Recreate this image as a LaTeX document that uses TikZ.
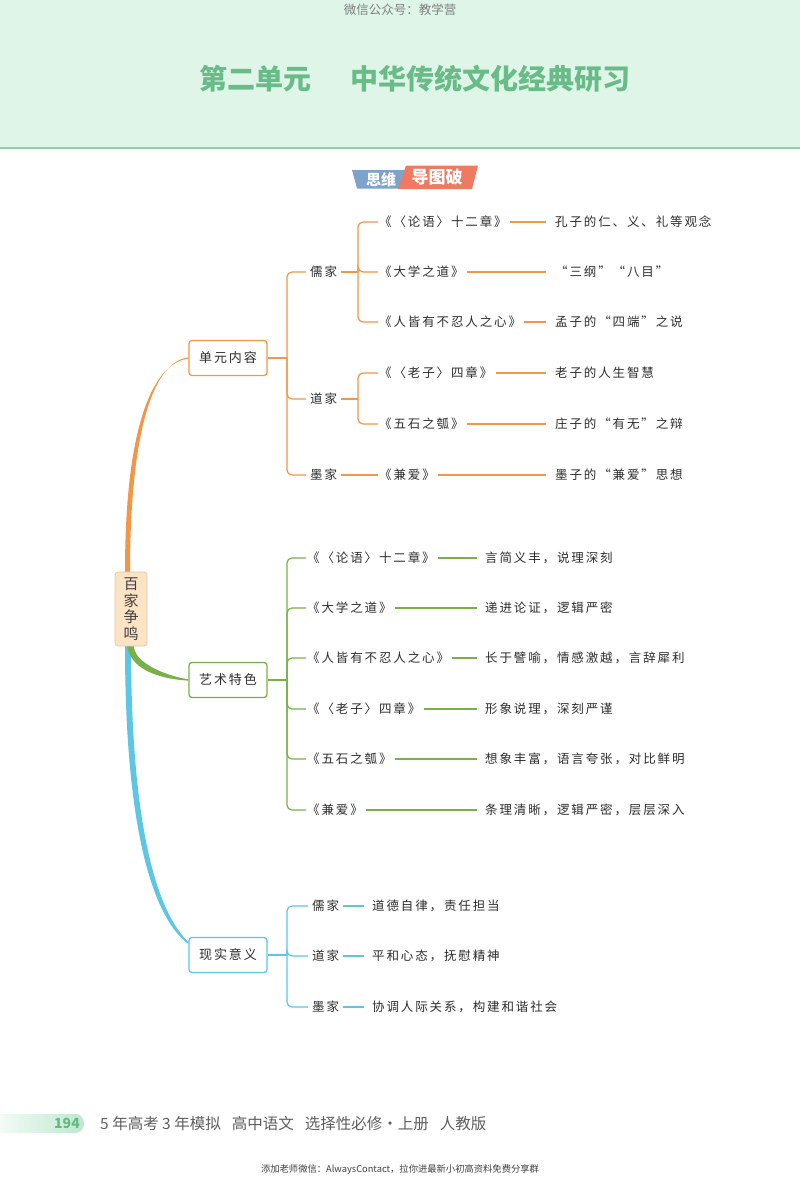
\documentclass[tikz,border=0pt]{standalone}
\usepackage{fontspec}
\setmainfont{Noto Sans CJK SC}
\newfontfamily\cjk{Noto Sans CJK SC}
\newfontfamily\cjksp[LetterSpace=15]{Noto Sans CJK SC}
\usetikzlibrary{calc}
\pgfdeclarelayer{bg}
\pgfsetlayers{bg,main}
\definecolor{org}{RGB}{240,152,72}
\definecolor{grn}{RGB}{122,176,72}
\definecolor{cyn}{RGB}{92,198,228}
\definecolor{txt}{RGB}{45,45,45}
\definecolor{hdr}{RGB}{222,245,232}
\definecolor{hdrline}{RGB}{140,208,165}
\definecolor{ttl}{RGB}{105,188,136}
\definecolor{bdgblue}{RGB}{125,163,204}
\definecolor{bdgred}{RGB}{238,122,98}
\definecolor{rootfill}{RGB}{251,227,198}
\definecolor{rootdraw}{RGB}{236,200,160}
\definecolor{foot}{RGB}{95,95,95}
\definecolor{pagenum}{RGB}{100,185,130}
\tikzset{
  leaf/.style={anchor=west, inner xsep=1pt, inner ysep=2pt, text=txt, font=\cjksp\fontsize{12.5}{14}\selectfont},
  bbox/.style={draw, line width=1.3pt, rounded corners=3pt, minimum width=78pt, minimum height=35pt, text=txt, fill=white, font=\cjksp\fontsize{13}{15}\selectfont},
  oline/.style={draw=org, line width=1.2pt},
  gline/.style={draw=grn, line width=1.2pt},
  cline/.style={draw=cyn, line width=1.2pt},
  tolabel/.style={rounded corners=5pt, shorten >=3pt},
  tobook/.style={rounded corners=5pt},
}
\begin{document}
\begin{tikzpicture}[x=1pt,y=-1pt]
\useasboundingbox (0,0) rectangle (800,1178);
\begin{pgfonlayer}{bg}
\fill[white] (0,0) rectangle (800,1178);
\fill[hdr] (0,0) rectangle (800,147);
\fill[hdrline] (0,146.5) rectangle (800,149);
\end{pgfonlayer}
% header
\node[font=\fontsize{12.5}{14}\selectfont, text=black!50] (wm) at (400,10) {微信公众号：教学营};
\node[font=\bfseries\fontsize{28}{32}\selectfont, text=ttl] (title) at (415,79) {第二单元\hspace{40pt}中华传统文化经典研习};
% badge
\fill[bdgblue] (352,170) -- (410,170) -- (406,188.5) -- (357,188.5) -- cycle;
\fill[bdgred] (406,165.5) -- (478,165.5) -- (472,189) -- (398,189) -- cycle;
\node[font=\bfseries\fontsize{15}{17}\selectfont, text=white] (bd1) at (381,179.5) {思维};
\node[font=\bfseries\fontsize{17}{19}\selectfont, text=white] (bd2) at (437,177.5) {导图破};
% root
\node[draw=rootdraw, fill=rootfill, rounded corners=3pt, line width=0.8pt, minimum width=32pt, minimum height=74pt, align=center, text=black!75, font=\fontsize{15}{16.5}\selectfont] (root) at (131,609) {百\\家\\争\\鸣};
% branch boxes
\node[bbox, draw=org] (ba) at (228,358) {单元内容};
\node[bbox, draw=grn] (bb) at (228,680) {艺术特色};
\node[bbox, draw=cyn] (bc) at (228,955) {现实意义};
% tapered connectors from root
\begin{pgfonlayer}{bg}
\fill[cyn] ($(root.south)+(-6,-1)$) .. controls (125,820) and (150,915) .. ($(bc.west)+(0,-11)$) -- ($(bc.west)+(0,-13)$) .. controls (155,910) and (131,820) .. ($(root.south)+(0,-1)$) -- cycle;
\fill[grn] ($(root.south)+(-4,-1)$) .. controls (130,667) and (154,678.6) .. ($(bb.west)+(0,0.6)$) -- ($(bb.west)+(0,-0.6)$) .. controls (159,674.4) and (133,660) .. ($(root.south)+(3,-1)$) -- cycle;
\fill[org] ($(root.north)+(-6,1)$) .. controls (125,422) and (154,363) .. ($(ba.west)+(0,0.6)$) -- ($(ba.west)+(0,-0.6)$) .. controls (156,361) and (130,422) .. ($(root.north)+(-1,1)$) -- cycle;
\end{pgfonlayer}
% ---------- orange subtree ----------
\coordinate (ja) at (287,358);
\node[leaf] (ru) at (309,272) {儒家};
\node[leaf] (dao) at (309,399) {道家};
\node[leaf] (mo) at (309,475) {墨家};
\coordinate (jru) at (358,272);
\coordinate (jdao) at (358,399);
\node[leaf] (a1) at (378,222) {《〈论语〉十二章》};
\node[leaf] (a2) at (378,272) {《大学之道》};
\node[leaf] (a3) at (378,322) {《人皆有不忍人之心》};
\node[leaf] (a4) at (378,373) {《〈老子〉四章》};
\node[leaf] (a5) at (378,424) {《五石之瓠》};
\node[leaf] (a6) at (378,475) {《兼爱》};
\node[leaf] (d1) at (554,222) {孔子的仁、义、礼等观念};
\node[leaf] (d2) at (554,272) {“三纲”“八目”};
\node[leaf] (d3) at (554,322) {孟子的“四端”之说};
\node[leaf] (d4) at (554,373) {老子的人生智慧};
\node[leaf] (d5) at (554,424) {庄子的“有无”之辩};
\node[leaf] (d6) at (554,475) {墨子的“兼爱”思想};
\draw[oline] (ba.east) -- (ja);
\foreach \c in {ru,dao,mo} \draw[oline,tolabel] (ja) |- (\c.west);
\draw[oline, shorten <=3pt] (ru.east) -- (jru);
\foreach \c in {a1,a2,a3} \draw[oline,tobook] (jru) |- (\c.west);
\draw[oline, shorten <=3pt] (dao.east) -- (jdao);
\foreach \c in {a4,a5} \draw[oline,tobook] (jdao) |- (\c.west);
\draw[oline, shorten <=3pt] (mo.east) -- (a6.west);
\foreach \a/\d in {a1/d1,a2/d2,a3/d3,a4/d4,a5/d5,a6/d6}
  \draw[oline, shorten <=2pt, shorten >=8pt] (\a.east) -- (\d.west);
% ---------- green subtree ----------
\coordinate (jb) at (287,680);
\node[leaf] (b1) at (306,558) {《〈论语〉十二章》};
\node[leaf] (b2) at (306,608) {《大学之道》};
\node[leaf] (b3) at (306,658) {《人皆有不忍人之心》};
\node[leaf] (b4) at (306,709) {《〈老子〉四章》};
\node[leaf] (b5) at (306,759) {《五石之瓠》};
\node[leaf] (b6) at (306,810) {《兼爱》};
\node[leaf] (e1) at (484,558) {言简义丰，说理深刻};
\node[leaf] (e2) at (484,608) {递进论证，逻辑严密};
\node[leaf] (e3) at (484,658) {长于譬喻，情感激越，言辞犀利};
\node[leaf] (e4) at (484,709) {形象说理，深刻严谨};
\node[leaf] (e5) at (484,759) {想象丰富，语言夸张，对比鲜明};
\node[leaf] (e6) at (484,810) {条理清晰，逻辑严密，层层深入};
\draw[gline] (bb.east) -- (jb);
\foreach \c in {b1,b2,b3,b4,b5,b6} \draw[gline,tobook] (jb) |- (\c.west);
\foreach \a/\d in {b1/e1,b2/e2,b3/e3,b4/e4,b5/e5,b6/e6}
  \draw[gline, shorten <=2pt, shorten >=7pt] (\a.east) -- (\d.west);
% ---------- cyan subtree ----------
\coordinate (jc) at (287,955);
\node[leaf] (c1) at (311,906) {儒家};
\node[leaf] (c2) at (311,956) {道家};
\node[leaf] (c3) at (311,1007) {墨家};
\node[leaf] (f1) at (371,906) {道德自律，责任担当};
\node[leaf] (f2) at (371,956) {平和心态，抚慰精神};
\node[leaf] (f3) at (371,1007) {协调人际关系，构建和谐社会};
\draw[cline] (bc.east) -- (jc);
\foreach \c in {c1,c2,c3} \draw[cline,tolabel] (jc) |- (\c.west);
\foreach \a/\d in {c1/f1,c2/f2,c3/f3}
  \draw[cline, shorten <=3pt, shorten >=7pt] (\a.east) -- (\d.west);
% ---------- footer ----------
\shade[left color=white, right color={rgb,255:red,190;green,232;blue,208}, rounded corners=9pt] (-20,1114) rectangle (84,1133);
\node[font=\bfseries\fontsize{14}{16}\selectfont, text=pagenum] (pg) at (67,1123.5) {194};
\node[anchor=west, inner sep=0pt, font=\fontsize{15.5}{17}\selectfont, text=foot] (book) at (100,1123.5) {5 年高考 3 年模拟\hspace{11pt}高中语文\hspace{11pt}选择性必修·上册\hspace{11pt}人教版};
\node[font=\fontsize{9.3}{11}\selectfont, text=black!75] (wm2) at (400,1170) {添加老师微信：AlwaysContact，拉你进最新小初高资料免费分享群};
\end{tikzpicture}
\end{document}
